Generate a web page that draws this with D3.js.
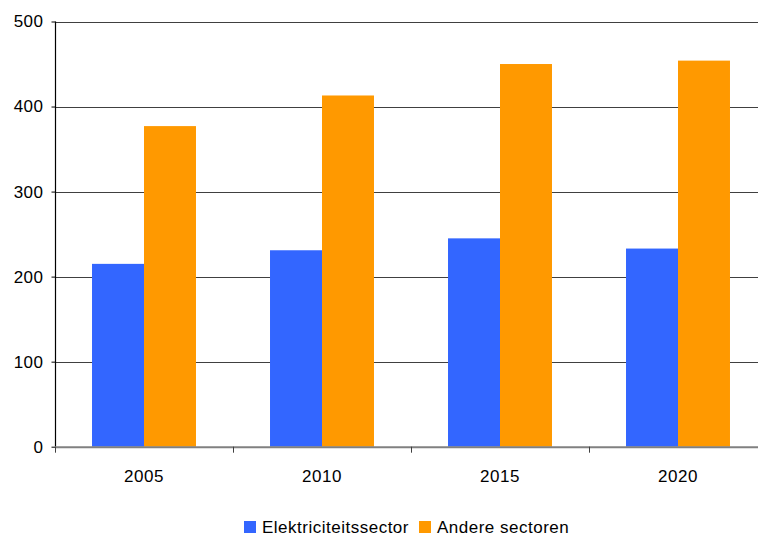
<!DOCTYPE html>
<html>
<head>
<meta charset="utf-8">
<script src="https://cdn.jsdelivr.net/npm/d3@7"></script>
<style>
  html, body { margin: 0; padding: 0; background: #fff; }
  svg { display: block; font-family: "Liberation Sans", Arial, sans-serif; }
  text { letter-spacing: 0.5px; }
</style>
</head>
<body>
<svg id="chart" width="758" height="537"></svg>
<script>
// Emissions per sector, by year
const years = ["2005", "2010", "2015", "2020"];
const seriesNames = ["Elektriciteitssector", "Andere sectoren"];
const elektriciteit = [215, 231, 245, 233];
const andere = [377, 413, 450, 454];
const yTicks = [0, 100, 200, 300, 400, 500];
const colors = ["#3366FF", "#FF9900"];

const svg = d3.select("#chart");
const plotLeft = 55, plotTop = 21.5, plotBottom = 446.7;
const bandW = 178;
const plotRight = plotLeft + bandW * years.length;
const fontSize = 17;

const x = d3.scaleBand().domain(years).range([plotLeft, plotRight]).paddingInner(0).paddingOuter(0);
const inner = d3.scaleBand().domain(seriesNames).range([0, bandW]).paddingInner(0).paddingOuter(0.712);
const y = d3.scaleLinear().domain([0, 500]).range([plotBottom, plotTop]);

const rows = years.map((yr, i) => ({ year: yr, values: [elektriciteit[i], andere[i]] }));

// horizontal gridlines
svg.append("g")
  .selectAll("line")
  .data(yTicks.filter(d => d > 0))
  .join("line")
  .attr("x1", plotLeft).attr("x2", 758)
  .attr("y1", d => Math.round(y(d)) + 0.5).attr("y2", d => Math.round(y(d)) + 0.5)
  .attr("stroke", "#404040").attr("stroke-width", 1.2);

// bars
svg.append("g")
  .selectAll("g")
  .data(rows)
  .join("g")
  .attr("transform", d => `translate(${x(d.year)},0)`)
  .selectAll("rect")
  .data(d => d.values.map((v, j) => ({ name: seriesNames[j], v, j })))
  .join("rect")
  .attr("x", d => inner(d.name))
  .attr("width", inner.bandwidth())
  .attr("y", d => y(d.v))
  .attr("height", d => y(0) - y(d.v))
  .attr("fill", d => colors[d.j]);

// y axis
const yAxis = d3.axisLeft(y).tickValues(yTicks).tickSize(4).tickPadding(8).tickFormat(d3.format("d"));
const gy = svg.append("g").attr("transform", `translate(${plotLeft + 0.5},0)`).call(yAxis);
gy.select(".domain").attr("stroke", "#000").attr("stroke-width", 1.2)
  .attr("d", `M0,${plotTop}V${plotBottom}`);
gy.selectAll(".tick line").attr("stroke", "#000");
gy.selectAll(".tick text").attr("font-size", fontSize).attr("fill", "#000")
  .attr("font-family", "Liberation Sans, Arial, sans-serif");

// x axis baseline with category separators
const xAxis = d3.axisBottom(x).tickSize(0).tickPadding(23);
const gx = svg.append("g").attr("transform", `translate(0,${plotBottom})`).call(xAxis);
gx.select(".domain").remove();
gx.selectAll(".tick text").attr("font-size", fontSize).attr("fill", "#000")
  .attr("font-family", "Liberation Sans, Arial, sans-serif");
gx.append("line")
  .attr("x1", plotLeft).attr("x2", 758).attr("y1", 0.5).attr("y2", 0.5)
  .attr("stroke", "#808080").attr("stroke-width", 2);
gx.append("g").selectAll("line")
  .data(years.map(d => x(d)))
  .join("line")
  .attr("x1", d => d + 0.5).attr("x2", d => d + 0.5)
  .attr("y1", 0).attr("y2", 6)
  .attr("stroke", "#404040");

// legend
const legend = svg.append("g").attr("transform", "translate(244,521)");
const items = [{ name: seriesNames[0], x: 0 }, { name: seriesNames[1], x: 175 }];
items.forEach((it, i) => {
  const g = legend.append("g").attr("transform", `translate(${it.x},0)`);
  g.append("rect").attr("width", 12).attr("height", 12).attr("fill", colors[i]);
  g.append("text").attr("x", 18).attr("y", 12).attr("font-size", fontSize).attr("fill", "#000")
    .text(it.name);
});
</script>
</body>
</html>
